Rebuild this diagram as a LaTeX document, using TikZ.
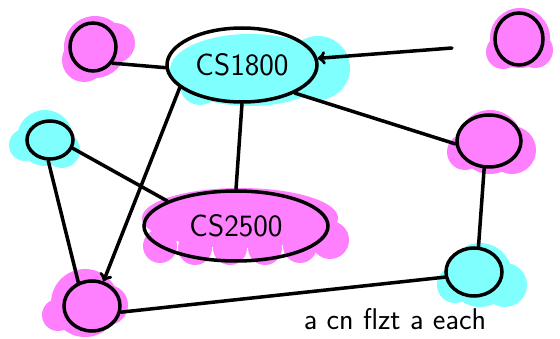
\documentclass[tikz,border=0pt]{standalone}
\usetikzlibrary{shapes.geometric}
\definecolor{blobpink}{HTML}{FF80FF}
\definecolor{blobcyan}{HTML}{80FFFF}
\begin{document}
\begin{tikzpicture}[x=1pt, y=-1pt, line width=3.5pt, line cap=round,
    every node/.style={ellipse, draw, line width=3.5pt, inner sep=0pt,
      font=\sffamily\fontsize{31}{33}\selectfont}]
  \useasboundingbox (0,0) rectangle (560,339);
  % coloured patches under the rings
  \fill[blobpink] (95,47) circle (31) (115,43) circle (20) (84,60) circle (22);
  \fill[blobcyan] (45,138) circle (28) (62,150) circle (18) (25,145) circle (16);
  \fill[blobpink] (85,303) circle (34) (108,305) circle (20) (58,315) circle (16);
  \fill[blobpink] (520,38) circle (30) (535,50) circle (18) (503,52) circle (17);
  \fill[blobpink] (490,142) circle (32) (512,150) circle (24) (465,152) circle (18);
  \fill[blobcyan] (480,275) circle (32) (505,285) circle (22) (455,285) circle (18);
  \fill[blobcyan] (250,70) ellipse (80 and 36) (318,68) circle (32) (200,85) circle (20);
  \fill[blobpink] (240,218) ellipse (98 and 30)
    (160,246) circle (17) (195,248) circle (17) (230,248) circle (17)
    (265,248) circle (17) (300,246) circle (17) (330,240) circle (19);
  % rings
  \node (tl) at (93,47) [minimum width=46, minimum height=48] {};
  \node (lc) at (50,140) [minimum width=46, minimum height=38] {};
  \node (bl) at (92,306) [minimum width=56, minimum height=50] {};
  \node (tr) at (519,39) [minimum width=48, minimum height=52] {};
  \node (rm) at (489,141) [minimum width=64, minimum height=52] {};
  \node (br) at (474,272) [minimum width=56, minimum height=48] {};
  \node (cs1) at (242,65) [minimum width=150, minimum height=74] {CS1800};
  \node (cs2) at (236,226) [minimum width=184, minimum height=70] {CS2500};
  \coordinate (in) at (452,48);
  \foreach \source/\dest in {tl.-40/cs1.182, cs1.270/cs2.90, cs1.-28/rm.185,
      lc.-20/cs2.160, lc.265/bl.120, bl.-12/br.190, rm.260/br.80}
    \path (\source) edge (\dest);
  \draw[->] (in) -- (cs1.5);
  \draw[->] (cs1.200) -- (bl.65);
  \node[draw=none, rectangle, anchor=base west, font=\sffamily\fontsize{30}{32}\selectfont]
    (note) at (302,330) {a cn flzt a each};
\end{tikzpicture}
\end{document}
